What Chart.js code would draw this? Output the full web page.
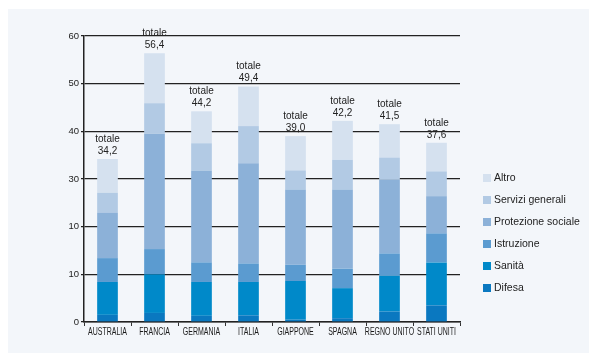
<!DOCTYPE html>
<html>
<head>
<meta charset="utf-8">
<script src="https://cdn.jsdelivr.net/npm/chart.js@4.4.0/dist/chart.umd.min.js"></script>
<style>
    html, body { margin: 0; padding: 0; background: #fff; }
    #wrap { width: 589px; height: 354px; }
</style>
</head>
<body>
<div id="wrap"><canvas id="spesaChart" width="589" height="354"></canvas></div>
<script>
// spesa pubblica per funzione, % del PIL
var paesi = ['AUSTRALIA', 'FRANCIA', 'GERMANIA', 'ITALIA', 'GIAPPONE', 'SPAGNA', 'REGNO UNITO', 'STATI UNITI'];
var difesa = [1.5, 1.9, 1.3, 1.4, 0.5, 0.8, 2.2, 3.5];
var sanita = [6.9, 8.1, 7.1, 7.0, 8.1, 6.3, 7.5, 9.0];
var istruzione = [5.0, 5.3, 4.1, 3.9, 3.4, 4.1, 4.7, 6.1];
var protezione = [9.5, 24.2, 19.3, 21.0, 15.8, 16.6, 15.5, 7.8];
var servizi = [4.2, 6.4, 5.7, 7.8, 4.0, 6.2, 4.6, 5.2];
var altro = [7.1, 10.5, 6.7, 8.3, 7.2, 8.2, 7.0, 6.0];
var totali = [34.2, 56.4, 44.2, 49.4, 39.0, 42.2, 41.5, 37.6];
var etichetteY = ['0', '10', '10', '30', '40', '50', '60'];

var FONT = "'Liberation Sans', Arial, sans-serif";

// sfondo del riquadro
var sfondo = {
    id: 'sfondo',
    beforeDraw: function (chart) {
        var ctx = chart.ctx;
        ctx.save();
        ctx.fillStyle = '#ffffff';
        ctx.fillRect(0, 0, chart.width, chart.height);
        ctx.fillStyle = '#f3f6fa';
        ctx.fillRect(8, 9, chart.width - 8, chart.height - 10);
        ctx.restore();
    }
};

// nomi dei paesi in carattere stretto sotto l'asse
var nomiPaesi = {
    id: 'nomiPaesi',
    afterDraw: function (chart) {
        var ctx = chart.ctx;
        var xs = chart.scales.x;
        var y = xs.top + 10;
        ctx.save();
        ctx.fillStyle = '#1a1a1a';
        ctx.font = '10px ' + FONT;
        ctx.textAlign = 'center';
        ctx.textBaseline = 'middle';
        chart.data.labels.forEach(function (nome, i) {
            var x = xs.getPixelForValue(i);
            ctx.save();
            ctx.translate(x, y);
            ctx.scale(0.7, 1);
            ctx.fillText(nome, 0, 0);
            ctx.restore();
        });
        ctx.restore();
    }
};

// "totale" + valore sopra ogni colonna
var etichetteTotali = {
    id: 'etichetteTotali',
    afterDatasetsDraw: function (chart) {
        var ctx = chart.ctx;
        var xs = chart.scales.x, ys = chart.scales.y;
        ctx.save();
        ctx.fillStyle = '#222';
        ctx.font = '10px ' + FONT;
        ctx.textAlign = 'center';
        ctx.textBaseline = 'middle';
        for (var i = 0; i < totali.length; i++) {
            var x = xs.getPixelForValue(i);
            var y = ys.getPixelForValue(totali[i]);
            ctx.fillText('totale', x, y - 20);
            ctx.fillText(totali[i].toFixed(1).replace('.', ','), x, y - 8);
        }
        ctx.restore();
    }
};

// legenda a destra, dall'alto verso il basso
var legenda = {
    id: 'legenda',
    afterDraw: function (chart) {
        var ctx = chart.ctx;
        var ds = chart.data.datasets.slice().reverse();
        ctx.save();
        ctx.font = '10.5px ' + FONT;
        ctx.textBaseline = 'middle';
        ctx.textAlign = 'left';
        for (var k = 0; k < ds.length; k++) {
            var y = 178 + k * 22;
            ctx.fillStyle = ds[k].backgroundColor;
            ctx.fillRect(483, y - 4, 8, 8);
            ctx.fillStyle = '#222';
            ctx.fillText(ds[k].label, 494, y);
        }
        ctx.restore();
    }
};

var ctx = document.getElementById('spesaChart');
var spesaChart = new Chart(ctx, {
    type: 'bar',
    data: {
        labels: paesi,
        datasets: [
            { label: 'Difesa', data: difesa, backgroundColor: '#0a78c0' },
            { label: 'Sanità', data: sanita, backgroundColor: '#0089c9' },
            { label: 'Istruzione', data: istruzione, backgroundColor: '#5b9bd0' },
            { label: 'Protezione sociale', data: protezione, backgroundColor: '#8cb1d8' },
            { label: 'Servizi generali', data: servizi, backgroundColor: '#b2cae4' },
            { label: 'Altro', data: altro, backgroundColor: '#d5e1ef' }
        ]
    },
    options: {
        responsive: false,
        animation: false,
        devicePixelRatio: 1,
        layout: { padding: { left: 0, top: 36, right: 129, bottom: 0 } },
        datasets: {
            bar: { barPercentage: 0.44, categoryPercentage: 1, borderWidth: 0 }
        },
        plugins: {
            legend: { display: false },
            tooltip: { enabled: false }
        },
        scales: {
            x: {
                stacked: true,
                offset: true,
                grid: {
                    offset: true,
                    drawOnChartArea: false,
                    drawTicks: true,
                    tickLength: 4,
                    color: '#333'
                },
                border: { display: true, color: '#222', width: 1.5 },
                ticks: { display: false },
                afterFit: function (scale) { scale.height = 32; }
            },
            y: {
                stacked: true,
                min: 0,
                max: 60,
                grid: { color: '#222', lineWidth: 1.2, tickLength: 3 },
                border: { display: true, color: '#222', width: 1.5 },
                ticks: {
                    stepSize: 10,
                    color: '#222',
                    font: { family: FONT, size: 9.5 },
                    padding: 2,
                    callback: function (value, index) { return etichetteY[index]; }
                },
                afterFit: function (scale) { scale.width = 84; }
            }
        }
    },
    plugins: [sfondo, etichetteTotali, nomiPaesi, legenda]
});
</script>
</body>
</html>
